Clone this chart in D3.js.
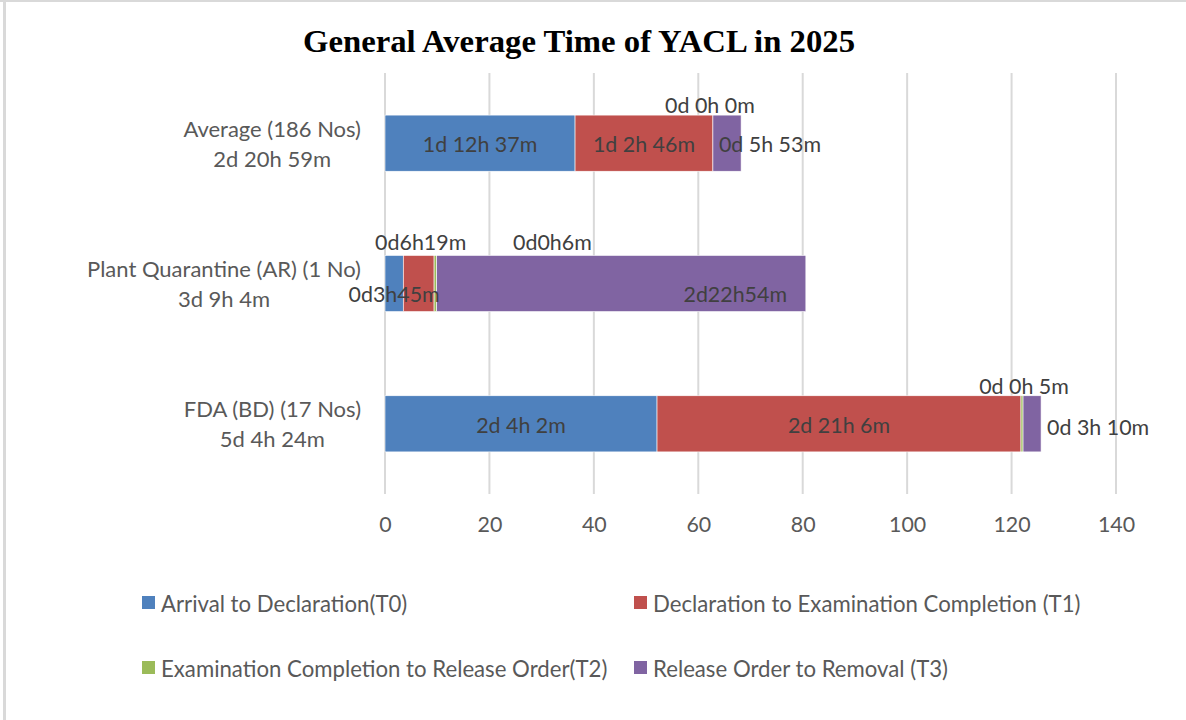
<!DOCTYPE html>
<html>
<head>
<meta charset="utf-8">
<script src="https://cdn.jsdelivr.net/npm/d3@7"></script>
<style>
  html, body { margin: 0; padding: 0; background: #fff; }
  svg { display: block; }
</style>
</head>
<body>
<svg id="chart" width="1186" height="720"></svg>
<script>
// ---------------- DATA ----------------
const title = "General Average Time of YACL in 2025";
const categories = ["Average (186 Nos)", "Plant Quarantine (AR) (1 No)", "FDA (BD) (17 Nos)"];
const categoryTotals = ["2d 20h 59m", "3d 9h 4m", "5d 4h 24m"];
const seriesNames = [
  "Arrival to Declaration(T0)",
  "Declaration to Examination Completion (T1)",
  "Examination Completion to Release Order(T2)",
  "Release Order to Removal (T3)"
];
// hours
const t0 = [36.4, 3.5, 52.1];
const t1 = [26.4, 5.9, 69.7];
const t2 = [0, 0.5, 0.4];
const t3 = [5.4, 70.7, 3.45];
const t0Labels = ["1d 12h 37m", "0d3h45m", "2d 4h 2m"];
const t1Labels = ["1d 2h 46m", "0d6h19m", "2d 21h 6m"];
const t2Labels = ["0d 0h 0m", "0d0h6m", "0d 0h 5m"];
const t3Labels = ["0d 5h 53m", "2d22h54m", "0d 3h 10m"];
const xTicks = [0, 20, 40, 60, 80, 100, 120, 140];

// ---------------- STYLE / LAYOUT ----------------
const colors = ["#4f81bd", "#c0504d", "#9bbb59", "#8064a2"];
const font = "Lato, 'Open Sans', sans-serif";
const labelSize = 21.4;
const catSize = 22;
const legendSize = 22.2;
const labelColor = "#404040";
const axisColor = "#595959";
// label placement per [category][series]: mode mid/above/start/after, dx, dy
const labelLayout = [
  [{m:"mid",dx:0,dy:0},{m:"mid",dx:0,dy:0},{m:"above",dx:-3,dy:0},{m:"start",dx:6,dy:0}],
  [{m:"mid",dx:0,dy:9},{m:"above",dx:2,dy:-3},{m:"above",dx:117,dy:-3},{m:"mid",dx:114,dy:9}],
  [{m:"mid",dx:0,dy:0},{m:"mid",dx:0,dy:0},{m:"above",dx:2,dy:0},{m:"after",dx:6,dy:2}]
];

const svg = d3.select("#chart");

// border
svg.append("rect").attr("x", 0).attr("y", 0).attr("width", 1186).attr("height", 2).attr("fill", "#d9d9d9");
svg.append("rect").attr("x", 3).attr("y", 0).attr("width", 3).attr("height", 720).attr("fill", "#d9d9d9");

// title
svg.append("text")
  .attr("x", 579).attr("y", 52)
  .attr("text-anchor", "middle")
  .attr("font-family", "'Liberation Serif', 'Times New Roman', serif")
  .attr("font-weight", "bold")
  .attr("font-size", 32)
  .attr("textLength", 552)
  .attr("lengthAdjust", "spacingAndGlyphs")
  .attr("fill", "#000")
  .text(title);

const x = d3.scaleLinear().domain([0, 140]).range([385, 1116]);
const y = d3.scaleBand().domain(categories).range([73, 494]).paddingInner(0.6).paddingOuter(0.3);

// gridlines
svg.append("g").selectAll("line").data(xTicks).join("line")
  .attr("x1", d => x(d)).attr("x2", d => x(d))
  .attr("y1", 73).attr("y2", 494)
  .attr("stroke", "#d9d9d9").attr("stroke-width", 2);

// x axis tick labels
const xAxis = d3.axisBottom(x).tickValues(xTicks).tickSize(0).tickPadding(0);
const gx = svg.append("g").attr("transform", "translate(0,517)").call(xAxis);
gx.select(".domain").remove();
gx.selectAll("text")
  .attr("font-family", font).attr("font-size", labelSize).attr("fill", axisColor)
  .attr("dy", "0.71em");

// stacked data
const rows = categories.map((c, i) => ({cat: c, vals: [t0[i], t1[i], t2[i], t3[i]]}));
const keys = [0, 1, 2, 3];
const stack = d3.stack().keys(keys).value((d, k) => d.vals[k]);
const stacked = stack(rows);

const gBars = svg.append("g");
stacked.forEach((layer, si) => {
  gBars.append("g").selectAll("rect").data(layer).join("rect")
    .attr("x", d => x(d[0]))
    .attr("y", d => y(d.data.cat))
    .attr("width", d => Math.max(0, x(d[1]) - x(d[0])))
    .attr("height", y.bandwidth())
    .attr("fill", colors[si])
    .attr("stroke", "#fff").attr("stroke-width", 0.6);
});

// data labels
const allLabels = [t0Labels, t1Labels, t2Labels, t3Labels];
const gLab = svg.append("g");
stacked.forEach((layer, si) => {
  layer.forEach((d, ci) => {
    const L = labelLayout[ci][si];
    const x0 = x(d[0]), x1 = x(d[1]);
    const top = y(d.data.cat), mid = top + y.bandwidth() / 2;
    let tx, ty, anchor = "middle";
    if (L.m === "mid") { tx = (x0 + x1) / 2 + L.dx; ty = mid + 1 + L.dy; }
    else if (L.m === "above") { tx = (x0 + x1) / 2 + L.dx; ty = top - 10 + L.dy; }
    else if (L.m === "start") { tx = x0 + L.dx; ty = mid + 1 + L.dy; anchor = "start"; }
    else { tx = x1 + L.dx; ty = mid + 1 + L.dy; anchor = "start"; }
    gLab.append("text")
      .attr("x", tx).attr("y", ty)
      .attr("text-anchor", anchor)
      .attr("dominant-baseline", "central")
      .attr("font-family", font).attr("font-size", labelSize)
      .attr("fill", labelColor)
      .text(allLabels[si][ci]);
  });
});

// category labels (two centered lines, block right-aligned)
categories.forEach((c, i) => {
  const mid = y(c) + y.bandwidth() / 2;
  const g = svg.append("g");
  const l1 = g.append("text").attr("y", mid - 15).attr("dominant-baseline", "central")
    .attr("font-family", font).attr("font-size", catSize).attr("fill", axisColor).text(c);
  const l2 = g.append("text").attr("y", mid + 15).attr("dominant-baseline", "central")
    .attr("font-family", font).attr("font-size", catSize).attr("fill", axisColor).text(categoryTotals[i]);
  const w = Math.max(l1.node().getComputedTextLength(), l2.node().getComputedTextLength());
  const cx = 361 - w / 2;
  l1.attr("x", cx).attr("text-anchor", "middle");
  l2.attr("x", cx).attr("text-anchor", "middle");
});

// legend
const legendPos = [[142, 602], [634, 602], [142, 667], [634, 667]];
seriesNames.forEach((n, i) => {
  const [lx, ly] = legendPos[i];
  svg.append("rect").attr("x", lx).attr("y", ly - 6).attr("width", 13).attr("height", 13).attr("fill", colors[i]);
  svg.append("text").attr("x", lx + 19).attr("y", ly + 1).attr("dominant-baseline", "central")
    .attr("font-family", font).attr("font-size", legendSize).attr("fill", axisColor).text(n);
});
</script>
</body>
</html>
